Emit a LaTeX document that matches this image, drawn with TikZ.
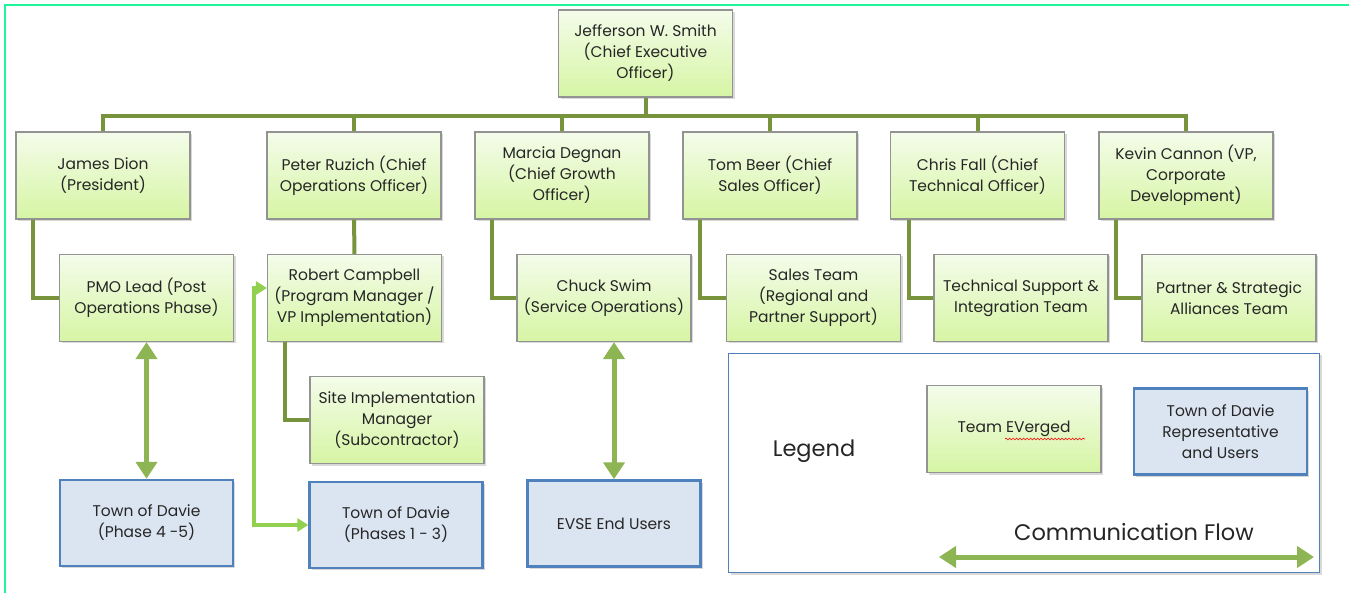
\documentclass[tikz,border=0pt]{standalone}
\usepackage{fontspec}
\setmainfont{Poppins}
\usepackage{tikz}
\usetikzlibrary{arrows.meta,shadows,decorations.pathmorphing}
\definecolor{framegreen}{HTML}{1EF59A}
\definecolor{linkgreen}{HTML}{77933C}
\definecolor{flowgreen}{HTML}{8DB554}
\definecolor{brightgreen}{HTML}{92D050}
\definecolor{boxtop}{HTML}{F4FCEA}
\definecolor{boxbottom}{HTML}{D6F5A4}
\definecolor{townfill}{HTML}{DBE5F1}
\definecolor{townline}{HTML}{4F81BD}
\definecolor{inkgray}{HTML}{262626}
\tikzset{
  every node/.style={
    text=inkgray,
    align=center,
    font=\fontsize{15.5}{21}\selectfont
  },
  team/.style={
    draw=gray!85, line width=1.2pt,
    top color=boxtop, bottom color=boxbottom,
    minimum width=174pt, minimum height=87pt,
    drop shadow={shadow xshift=2pt, shadow yshift=-2pt, opacity=0.3}
  },
  town/.style={
    draw=townline, line width=2.4pt, fill=townfill,
    minimum width=173pt, minimum height=86pt,
    drop shadow={shadow xshift=2pt, shadow yshift=-2pt, opacity=0.3}
  },
  link/.style={draw=linkgreen, line width=4pt},
  flow/.style={draw=flowgreen, line width=5pt,
    {Triangle[width=21pt,length=17pt]}-{Triangle[width=21pt,length=17pt]}},
  thinflow/.style={draw=brightgreen, line width=3.5pt,
    {Triangle[width=13pt,length=11pt]}-{Triangle[width=13pt,length=11pt]}},
  keytext/.style={font=\fontsize{22.5}{27}\selectfont}
}

\begin{document}
\begin{tikzpicture}[x=1pt,y=-1pt]
  \useasboundingbox (0,0) rectangle (1349,593);
  \draw[framegreen, line width=2.2pt] (5,593) -- (5,5) -- (1349,5);

  \node[team] (CEO) at (645.5,53.5) {Jefferson W. Smith\\(Chief Executive\\Officer)};
  \node[team] (Dion) at (103,175.5) {James Dion\\(President)};
  \node[team] (Ruzich) at (354,175.5) {Peter Ruzich (Chief\\Operations Officer)};
  \node[team] (Degnan) at (562,175.5) {Marcia Degnan\\(Chief Growth\\Officer)};
  \node[team] (Beer) at (770,175.5) {Tom Beer (Chief\\Sales Officer)};
  \node[team] (Fall) at (977.5,175.5) {Chris Fall (Chief\\Technical Officer)};
  \node[team] (Cannon) at (1186,175.5) {Kevin Cannon (VP,\\Corporate\\Development)};

  \node[team] (PMO) at (146.5,298) {PMO Lead (Post\\Operations Phase)};
  \node[team] (Campbell) at (354.5,298) {Robert Campbell\\(Program Manager /\\VP Implementation)};
  \node[team] (Swim) at (604,298) {Chuck Swim\\(Service Operations)};
  \node[team] (Sales) at (813.5,298) {Sales Team\\(Regional and\\Partner Support)};
  \node[team] (Tech) at (1021,298) {Technical Support \&\\Integration Team};
  \node[team] (Partner) at (1229,298) {Partner \& Strategic\\Alliances Team};
  \node[team] (Site) at (397,420) {Site Implementation\\Manager\\(Subcontractor)};

  \node[town] (DavieLate) at (146.5,523) {Town of Davie\\(Phase 4 -5)};
  \node[town] (DavieEarly) at (396,525) {Town of Davie\\(Phases 1 - 3)};
  \node[town] (EVSE) at (614,523.5) {EVSE End Users};

  \coordinate (Bus) at (0,116);
  \foreach \n in {Dion,Ruzich,Degnan,Beer,Fall,Cannon}
    \draw[link] (CEO.south) -- (CEO.south |- Bus) -| (\n.north);
  \draw[link] ([xshift=18pt]Dion.south west) |- (PMO.west);
  \draw[link] (Ruzich) -- (Campbell);
  \draw[link] ([xshift=18pt]Degnan.south west) |- (Swim.west);
  \draw[link] ([xshift=18pt]Beer.south west) |- (Sales.west);
  \draw[link] ([xshift=19pt]Fall.south west) |- (Tech.west);
  \draw[link] ([xshift=18pt]Cannon.south west) |- (Partner.west);
  \draw[link] ([xshift=18pt]Campbell.south west) |- (Site.west);

  \draw[flow] (PMO) -- (DavieLate);
  \draw[flow] (EVSE.north |- Swim.south) -- (EVSE.north);
  \draw[thinflow] ([yshift=10pt]Campbell.west) -- ++(-13,0) |- (DavieEarly.west);

  \node[draw=townline, line width=1.3pt, fill=white, minimum width=591pt, minimum height=219pt,
    drop shadow={shadow xshift=2pt, shadow yshift=-2pt, opacity=0.3}] (Key) at (1024,463) {};
  \node[keytext] (KeyTitle) at (814,451) {Legend};
  \node[team] (Everged) at (1014,429) {Team EVerged};
  \node[town] (DavieRep) at (1220.5,431.5) {Town of Davie\\Representative\\and Users};
  \draw[red, line width=0.6pt, decorate, decoration={snake, amplitude=0.9pt, segment length=3.5pt}]
    (1005,439) -- (1085,439);
  \node[keytext] (FlowLabel) at (1134,532) {Communication Flow};
  \coordinate (FlowL) at (939,557);
  \coordinate (FlowR) at (1314,557);
  \draw[flow] (FlowL) -- (FlowR);
\end{tikzpicture}
\end{document}
